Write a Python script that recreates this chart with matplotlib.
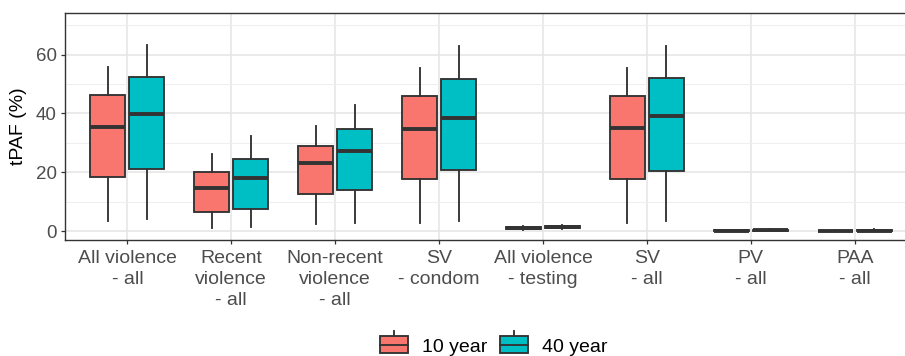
import numpy as np
import matplotlib.pyplot as plt
from matplotlib.patches import Rectangle
from matplotlib.lines import Line2D

plt.rcParams['font.family'] = ['Liberation Sans', 'DejaVu Sans']

# categories and five-number summaries (low whisker, Q1, median, Q3, high whisker)
categories = ['All violence\n- all', 'Recent\nviolence\n- all', 'Non-recent\nviolence\n- all',
              'SV\n- condom', 'All violence\n- testing', 'SV\n- all', 'PV\n- all', 'PAA\n- all']
groups = ['10 year', '40 year']
colors = ['#F8766D', '#00BFC4']

stats_10 = [
    [3.5, 18.3, 35.5, 46.3, 55.8],
    [1.0, 6.4, 14.7, 20.0, 26.3],
    [2.4, 12.6, 23.1, 29.0, 35.7],
    [2.7, 17.7, 34.7, 46.0, 55.5],
    [0.5, 0.8, 1.0, 1.2, 1.6],
    [2.8, 17.8, 35.0, 45.9, 55.4],
    [0.0, 0.05, 0.1, 0.2, 0.4],
    [0.0, 0.05, 0.1, 0.15, 0.3],
]
stats_40 = [
    [4.1, 21.2, 39.9, 52.4, 63.3],
    [1.4, 7.5, 17.9, 24.5, 32.4],
    [2.7, 14.0, 27.2, 34.7, 42.9],
    [3.4, 20.8, 38.5, 51.8, 63.0],
    [0.7, 1.1, 1.4, 1.7, 2.2],
    [3.4, 20.5, 39.0, 52.0, 63.0],
    [0.0, 0.1, 0.2, 0.35, 0.7],
    [0.0, 0.1, 0.15, 0.3, 0.6],
]

W, H = 905, 356
fig = plt.figure(figsize=(W / 100, H / 100), dpi=100)
ax = fig.add_axes([65 / W, (H - 240) / H, (917 - 65) / W, 227 / H])

edge = '#333333'
x = np.arange(1, len(categories) + 1)
for k, stats in enumerate([stats_10, stats_40]):
    bxp_stats = [dict(whislo=s[0], q1=s[1], med=s[2], q3=s[3], whishi=s[4], fliers=[]) for s in stats]
    offset = -0.1875 if k == 0 else 0.1875
    ax.bxp(bxp_stats, positions=x + offset, widths=0.3375, showcaps=False, patch_artist=True,
           boxprops=dict(facecolor=colors[k], edgecolor=edge, linewidth=1.35),
           whiskerprops=dict(color=edge, linewidth=1.35),
           medianprops=dict(color=edge, linewidth=2.8, solid_capstyle='butt'),
           manage_ticks=False, zorder=3)

ax.set_xlim(0.4, 8.6)
ax.set_ylim(-3.06, 74.2)
ax.set_xticks(x)
ax.set_xticklabels(categories, fontsize=14, color='#4D4D4D', linespacing=1.3, va='top')
ax.set_yticks([0, 20, 40, 60])
ax.set_yticks([10, 30, 50, 70], minor=True)
ax.tick_params(axis='y', labelsize=13.5, labelcolor='#4D4D4D', color=edge, length=3, width=0.9, pad=3)
ax.tick_params(axis='x', color=edge, length=3, width=0.9, pad=4.5)
ax.tick_params(which='minor', length=0)
ax.grid(which='major', color='#E6E6E6', linewidth=1.2, zorder=0)
ax.grid(which='minor', axis='y', color='#EFEFEF', linewidth=0.8, zorder=0)
ax.set_axisbelow(True)
for s in ax.spines.values():
    s.set_color(edge)
    s.set_linewidth(1.0)
ax.set_ylabel('tPAF (%)', fontsize=14, labelpad=6)

# legend drawn at the bottom
def px(xp, yp):
    return xp / W, (H - yp) / H

for k, (lab, x0) in enumerate(zip(groups, [380, 500])):
    fx, fy = px(x0, 353)
    fig.add_artist(Rectangle((fx, fy), 28 / W, 17 / H, transform=fig.transFigure,
                             facecolor=colors[k], edgecolor=edge, linewidth=1.35))
    a, b = px(x0, 344.5)
    c, _ = px(x0 + 28, 344.5)
    fig.add_artist(Line2D([a, c], [b, b], transform=fig.transFigure, color=edge, linewidth=1.35))
    m, t = px(x0 + 14, 331)
    _, u = px(x0 + 14, 336)
    fig.add_artist(Line2D([m, m], [t, u], transform=fig.transFigure, color=edge, linewidth=1.35))
    tx, ty = px(x0 + 42, 347)
    fig.text(tx, ty, lab, fontsize=14, va='center', ha='left')

plt.savefig('out.png', dpi=100)
